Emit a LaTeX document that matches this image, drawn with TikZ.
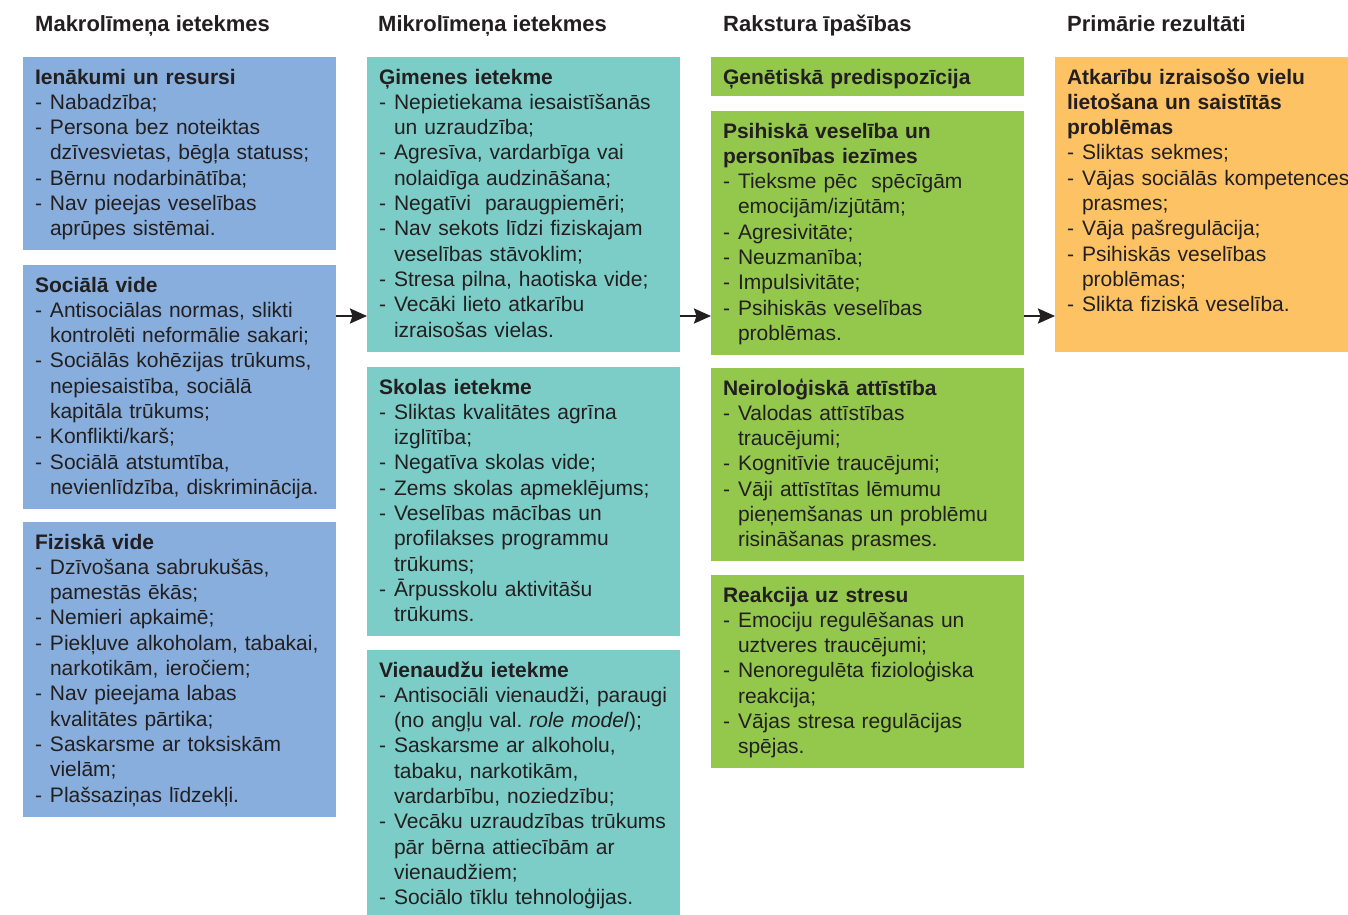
\documentclass[tikz,border=0pt]{standalone}
\usepackage{fontspec}
\setmainfont{Liberation Sans}
\usetikzlibrary{arrows.meta}
\definecolor{cmak}{HTML}{87AEDC}
\definecolor{cmik}{HTML}{7CCDC7}
\definecolor{crak}{HTML}{93C84D}
\definecolor{cpri}{HTML}{FDC263}
\definecolor{ctxt}{HTML}{231F20}
\newcommand{\itm}{\makebox[15pt][l]{-}}
\newcommand{\ind}{\hspace*{15pt}}
\newcommand{\ttl}[1]{\rule{0pt}{20pt}\textbf{#1}}
\tikzset{
  bx/.style={anchor=north west, text width=289pt, inner xsep=12pt, inner ysep=7pt, outer sep=0pt, align=left, text=ctxt, font=\fontsize{21}{25.3}\selectfont},
  hdr/.style={anchor=base west, inner sep=0pt, text=ctxt, font=\fontsize{22}{26}\selectfont\bfseries},
  arr/.style={-{Stealth[length=17pt,width=15pt,inset=2.5pt]}, line width=2.2pt, draw=ctxt}
}
\begin{document}
\begin{tikzpicture}[x=1pt,y=-1pt]
\useasboundingbox (0,0) rectangle (1348,914);
\node[hdr] (hmak) at (35,31) {Makrolīmeņa ietekmes}; \node[hdr] (hmik) at (378,31) {Mikrolīmeņa ietekmes};
\node[hdr] (hrak) at (723,31) {Rakstura īpašības}; \node[hdr] (hpri) at (1067,31) {Primārie rezultāti};

\node[bx, fill=cmak] (mak1) at (23,57) {\ttl{Ienākumi un resursi}\\
  \itm Nabadzība;\\
  \itm Persona bez noteiktas\\ \ind dzīvesvietas, bēgļa statuss;\\
  \itm Bērnu nodarbinātība;\\
  \itm Nav pieejas veselības\\ \ind aprūpes sistēmai.\strut};
\node[bx, fill=cmak] (mak2) at (23,265) {\ttl{Sociālā vide}\\
  \itm Antisociālas normas, slikti\\ \ind kontrolēti neformālie sakari;\\
  \itm Sociālās kohēzijas trūkums,\\ \ind nepiesaistība, sociālā\\ \ind kapitāla trūkums;\\
  \itm Konflikti/karš;\\
  \itm Sociālā atstumtība,\\ \ind nevienlīdzība, diskriminācija.\strut};
\node[bx, fill=cmak] (mak3) at (23,522) {\ttl{Fiziskā vide}\\
  \itm Dzīvošana sabrukušās,\\ \ind pamestās ēkās;\\
  \itm Nemieri apkaimē;\\
  \itm Piekļuve alkoholam, tabakai,\\ \ind narkotikām, ieročiem;\\
  \itm Nav pieejama labas\\ \ind kvalitātes pārtika;\\
  \itm Saskarsme ar toksiskām\\ \ind vielām;\\
  \itm Plašsaziņas līdzekļi.\strut};

\node[bx, fill=cmik] (mik1) at (367,57) {\ttl{Ģimenes ietekme}\\
  \itm Nepietiekama iesaistīšanās\\ \ind un uzraudzība;\\
  \itm Agresīva, vardarbīga vai\\ \ind nolaidīga audzināšana;\\
  \itm Negatīvi\ \ paraugpiemēri;\\
  \itm Nav sekots līdzi fiziskajam\\ \ind veselības stāvoklim;\\
  \itm Stresa pilna, haotiska vide;\\
  \itm Vecāki lieto atkarību\\ \ind izraisošas vielas.\strut};
\node[bx, fill=cmik] (mik2) at (367,367) {\ttl{Skolas ietekme}\\
  \itm Sliktas kvalitātes agrīna\\ \ind izglītība;\\
  \itm Negatīva skolas vide;\\
  \itm Zems skolas apmeklējums;\\
  \itm Veselības mācības un\\ \ind profilakses programmu\\ \ind trūkums;\\
  \itm Ārpusskolu aktivitāšu\\ \ind trūkums.\strut};
\node[bx, fill=cmik] (mik3) at (367,650) {\ttl{Vienaudžu ietekme}\\
  \itm Antisociāli vienaudži, paraugi\\ \ind (no angļu val.\ \textit{role model});\\
  \itm Saskarsme ar alkoholu,\\ \ind tabaku, narkotikām,\\ \ind vardarbību, noziedzību;\\
  \itm Vecāku uzraudzības trūkums\\ \ind pār bērna attiecībām ar\\ \ind vienaudžiem;\\
  \itm Sociālo tīklu tehnoloģijas.\strut};

\node[bx, fill=crak, inner ysep=4pt] (rak1) at (711,57) {\rule{0pt}{23pt}\textbf{Ģenētiskā predispozīcija}\strut};
\node[bx, fill=crak] (rak2) at (711,111) {\ttl{Psihiskā veselība un}\\ \textbf{personības iezīmes}\\
  \itm Tieksme pēc\ \ spēcīgām\\ \ind emocijām/izjūtām;\\
  \itm Agresivitāte;\\
  \itm Neuzmanība;\\
  \itm Impulsivitāte;\\
  \itm Psihiskās veselības\\ \ind problēmas.\strut};
\node[bx, fill=crak] (rak3) at (711,368) {\ttl{Neiroloģiskā attīstība}\\
  \itm Valodas attīstības\\ \ind traucējumi;\\
  \itm Kognitīvie traucējumi;\\
  \itm Vāji attīstītas lēmumu\\ \ind pieņemšanas un problēmu\\ \ind risināšanas prasmes.\strut};
\node[bx, fill=crak] (rak4) at (711,575) {\ttl{Reakcija uz stresu}\\
  \itm Emociju regulēšanas un\\ \ind uztveres traucējumi;\\
  \itm Nenoregulēta fizioloģiska\\ \ind reakcija;\\
  \itm Vājas stresa regulācijas\\ \ind spējas.\strut};

\node[bx, fill=cpri, text width=290pt] (pri1) at (1055,57) {\ttl{Atkarību izraisošo vielu}\\ \textbf{lietošana un saistītās}\\ \textbf{problēmas}\\
  \itm Sliktas sekmes;\\
  \itm Vājas sociālās kompetences\\ \ind prasmes;\\
  \itm Vāja pašregulācija;\\
  \itm Psihiskās veselības\\ \ind problēmas;\\
  \itm Slikta fiziskā veselība.\\ \strut};

\coordinate (ar) at (0,316);
\draw[arr] (mak2.east |- ar) to (mik1.west |- ar);
\draw[arr] (mik1.east |- ar) to (rak2.west |- ar);
\draw[arr] (rak2.east |- ar) to (pri1.west |- ar);
\end{tikzpicture}
\end{document}
